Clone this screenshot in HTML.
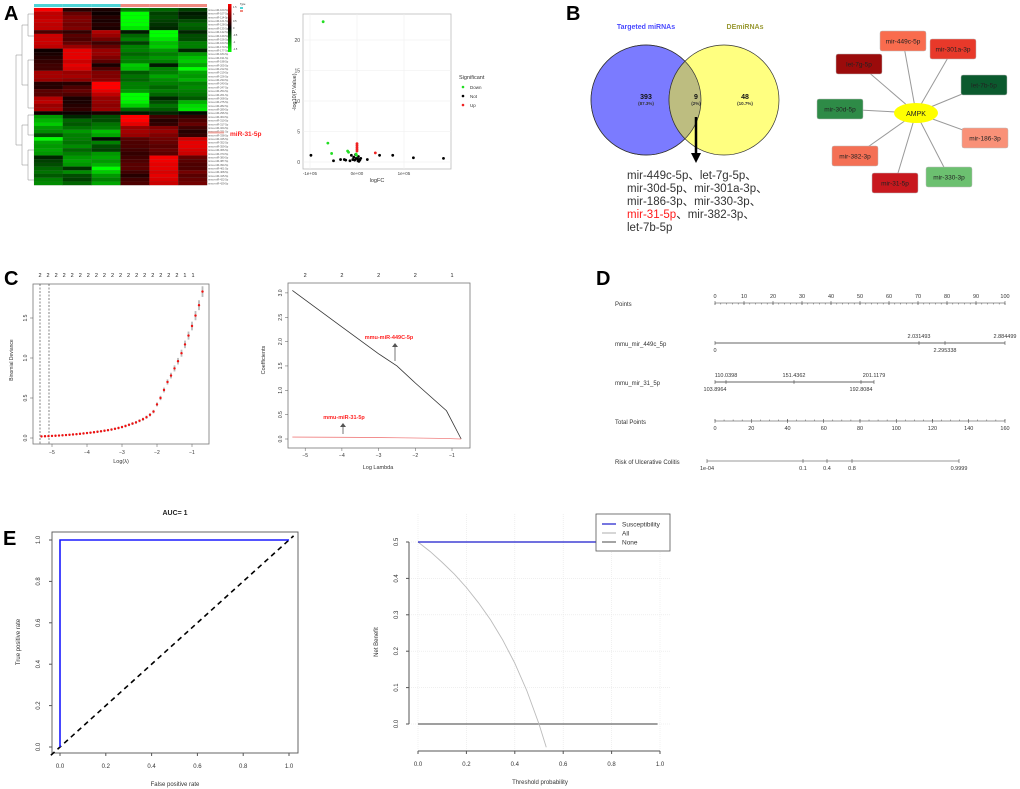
<!DOCTYPE html>
<html><head><meta charset="utf-8">
<style>
html,body{margin:0;padding:0;background:#fff;}
svg{display:block;font-family:"Liberation Sans",Arial,"Noto Sans CJK SC",sans-serif;}
</style></head>
<body>
<svg id="fig" width="1020" height="789" viewBox="0 0 1020 789" xmlns="http://www.w3.org/2000/svg">
<rect width="1020" height="789" fill="#fff"/>
<g id="gA"></g>
<g id="gB"></g>
<g id="gC"></g>
<g id="gD"></g>
<g id="gE"></g>
</svg>
<script>
// ===== DATA =====
const heatRows = [
[2,0.3,0.2,-1,-0.8,-0.5],[1.5,0.8,0.1,-2,-0.5,-0.2],[1.5,1,0.3,-2,-0.6,-0.3],[1.6,1,0.2,-2,-0.5,-0.6],
[1.5,0.9,0.3,-2,-0.4,-0.8],[1.5,1,0.2,-1.8,-0.3,-0.7],[0.6,0.4,1.4,-0.2,-2,-0.3],[1.6,0.7,1.2,-0.8,-2,-0.6],
[1.6,0.6,0.9,-1,-1.8,-0.6],[1.6,0.8,0.5,-0.5,-1.5,-1],[1.5,1.2,0.8,-1,-1.6,-1],[0.1,1.8,1.2,-1,-1.2,-0.3],
[0.2,1.8,1.2,-0.8,-1,-1.2],[0.3,1.8,1,-1,-1.2,-1.5],[0.4,1.6,0.7,-1,-1,-1.6],[0.5,1.8,0.2,-1.6,-0.2,-1.3],
[0.5,1.7,0.6,-1.5,-1,-2],[1.3,1.2,1.0,-0.7,-1,-1.3],[1.3,1.3,1.0,-0.9,-1.3,-1.2],[1.2,1.1,1.1,-0.8,-1.1,-1.4],
[0.3,0.3,2,-1,-1,-1],[0.3,0.6,2,-1,-0.8,-1.1],[0.7,0.8,1.8,-1.2,-1,-1],[0.7,0.6,1.5,-2,-0.8,-0.9],
[1.4,0.2,1.2,-2,-0.3,-0.7],[1.5,0.2,1.2,-1.9,-0.6,-1.4],[1.2,0.3,1.1,-1.6,-0.9,-1.7],[1.3,0.4,1.2,-0.8,-0.7,-1.8],
[0.1,0.1,0.2,-0.2,-0.3,-0.1],
[-1.2,-0.3,-0.6,2,0.5,0.4],[-1.4,-0.8,-0.6,2,0.3,0.6],[-1.6,-0.7,-0.9,1.8,0.4,0.8],[-1.2,-0.9,-1,1.2,1,0.5],
[-1.1,-1.2,-1.5,1.3,1.2,0.3],[-0.6,-1.0,-1.3,1.2,1.0,0.4],[-2,-1,-0.1,0.7,0.9,1.6],[-1.3,-0.9,-1,0.6,0.8,1.8],
[-1.2,-1.1,-0.6,0.6,0.7,1.8],[-1.3,-0.8,-0.5,0.5,0.8,1.7],[-1.2,-1.0,-1.2,0.4,0.7,1.6],[-0.3,-1.2,-1.3,0.5,1.9,0.8],
[-0.5,-1.3,-1.2,0.6,1.9,0.7],[-0.6,-1.2,-1.4,0.7,1.8,0.6],[-0.8,-0.4,-2,0.7,1.8,0.6],[-0.9,-1.1,-1.6,0.5,1.7,0.9],
[-0.7,-0.6,-1.2,0.3,1.8,0.7],[-1.0,-0.5,-1.0,0.5,1.7,0.8],[-1.1,-0.8,-1.3,0.6,1.6,0.9]
];
const heatTypes = ["C","C","C","T","T","T"];
const volDown = [[-0.72e5,23],[-0.62e5,3.1],[-0.54e5,1.4],[-0.2e5,1.8],[-0.18e5,1.6],[-0.02e5,1.3],[-0.01e5,1.1]];
const volUp = [[0,3.0],[0,2.7],[0,2.4],[0,2.1],[0,1.8],[0.39e5,1.5]];
const volNot = [[-0.98e5,1.1],[-0.5e5,0.2],[-0.35e5,0.4],[-0.27e5,0.4],[-0.24e5,0.3],[-0.15e5,0.2],[-0.12e5,1.1],
[-0.09e5,0.4],[-0.07e5,0.8],[-0.05e5,0.3],[-0.03e5,1.2],[-0.02e5,0.6],[0.01e5,0.5],[0.02e5,0.2],[0.03e5,0.9],
[0.04e5,0.1],[0.05e5,0.4],[0.06e5,0.3],[0.08e5,0.6],[0.22e5,0.4],[0.48e5,1.1],[0.76e5,1.1],[1.2e5,0.7],[1.84e5,0.6]];
const vennLabels = ["Targeted miRNAs","DEmiRNAs"];
const vennCounts = [393,9,48];
const vennPct = ["(87.3%)","(2%)","(10.7%)"];
const netNames = ["mir-449c-5p","mir-301a-3p","let-7g-5p","let-7b-5p","mir-30d-5p","mir-186-3p","mir-382-3p","mir-31-5p","mir-330-3p"];
const netColors = ["#f96c4e","#e8392a","#9b0b0b","#0b5a2e","#2e8b47","#f99178","#f47055","#c8181e","#6cc070"];
const cvLog = [-5.3,-5.2,-5.1,-5.0,-4.9,-4.8,-4.7,-4.6,-4.5,-4.4,-4.3,-4.2,-4.1,-4.0,-3.9,-3.8,-3.7,-3.6,-3.5,-3.4,-3.3,-3.2,-3.1,-3.0,-2.9,-2.8,-2.7,-2.6,-2.5,-2.4,-2.3,-2.2,-2.1,-2.0,-1.9,-1.8,-1.7,-1.6,-1.5,-1.4,-1.3,-1.2,-1.1,-1.0,-0.9,-0.8,-0.7];
const cvDev = [0.020,0.022,0.024,0.026,0.028,0.031,0.034,0.037,0.040,0.044,0.048,0.052,0.057,0.062,0.067,0.072,0.078,0.084,0.091,0.098,0.106,0.115,0.125,0.137,0.150,0.165,0.180,0.195,0.215,0.235,0.26,0.29,0.33,0.42,0.50,0.60,0.70,0.78,0.87,0.96,1.06,1.17,1.28,1.40,1.53,1.66,1.83];
const cvTop = ["2","2","2","2","2","2","2","2","2","2","2","2","2","2","2","2","2","2","1","1"];
const coefLog = [-5.35,-4,-3,-2.5,-2,-1.15,-0.75];
const coef449 = [3.05,2.3,1.75,1.5,1.15,0.58,0.0];
const coef31 = [0.04,0.035,0.03,0.025,0.02,0.01,0.0];
const rocFpr = [0,0,1];
const rocTpr = [0,1,1];
const dcaT = [0,0.05,0.1,0.15,0.2,0.25,0.3,0.35,0.4,0.45,0.5,0.53];
const dcaAll = [0.5,0.474,0.444,0.412,0.375,0.333,0.286,0.231,0.167,0.091,0,-0.064];
const dcaModel = [0.5,0.5];

// ===== helpers =====
const NS="http://www.w3.org/2000/svg";
function mk(parent,tag,attrs,text){const e=document.createElementNS(NS,tag);for(const k in attrs)e.setAttribute(k,attrs[k]);if(text!==undefined)e.textContent=text;parent.appendChild(e);return e;}
function txt(p,x,y,s,size,opt){opt=opt||{};const a={x:x,y:y,"font-size":size,fill:opt.fill||"#222","text-anchor":opt.anchor||"middle"};if(opt.weight)a["font-weight"]=opt.weight;if(opt.rot)a.transform="rotate(-90 "+x+" "+y+")";return mk(p,"text",a,s);}

// ===== Panel A =====
const gA=document.getElementById("gA");
const A=txt(gA,4,20,"A",20,{anchor:"start",weight:"bold",fill:"#000"});


const hx0=34,hw=173/6,hy0=8,hh=177/heatRows.length;
function hcol(v){const t=Math.min(Math.abs(v)/2,1);const c=Math.round(255*t);return v>=0?"rgb("+c+",0,0)":"rgb(0,"+c+",0)";}
heatTypes.forEach((t,j)=>{const r=mk(gA,"rect",{x:hx0+j*hw,y:4,width:hw,height:3,fill:t==="C"?"#4fd4d6":"#f08a80"});

});
heatRows.forEach((row,i)=>{row.forEach((v,j)=>{const r=mk(gA,"rect",{x:hx0+j*hw,y:hy0+i*hh,width:hw+0.2,height:hh+0.2,fill:hcol(v),stroke:"#555","stroke-width":0.1});

});
txt(gA,208,hy0+i*hh+hh*0.8,"mmu-miR-"+(100+i*7)+"-5p",2.6,{anchor:"start",fill:"#555"});});
const dg=mk(gA,"g",{stroke:"#888","stroke-width":0.5,fill:"none"});


mk(dg,"path",{d:"M16 55 V145 M16 55 H22 M16 145 H22 M22 25 V85 M22 25 H28 M22 85 H28 M22 125 V165 M22 125 H28 M22 165 H28 M28 14 V36 M28 14 H34 M28 36 H34 M28 60 V108 M28 60 H34 M28 108 H34 M28 115 V135 M28 115 H34 M28 135 H34 M28 150 V180 M28 150 H34 M28 180 H34"});
const lg=mk(gA,"defs",{});mk(lg,"linearGradient",{id:"hg",x1:0,y1:0,x2:0,y2:1});
const hgEl=lg.firstChild;[["0","#ff0000"],["0.5","#000000"],["1","#00ff00"]].forEach(s=>mk(hgEl,"stop",{offset:s[0],"stop-color":s[1]}));
const leg=mk(gA,"rect",{x:228,y:4,width:3.5,height:48,fill:"url(#hg)"});


["1.5","1","0.5","0","-0.5","-1","-1.5"].forEach((s,i)=>txt(gA,233,8+i*7,s,2.5,{anchor:"start",fill:"#333"}));
txt(gA,240,5,"Type",2.5,{anchor:"start"});
mk(gA,"rect",{x:240,y:7,width:3,height:2,fill:"#4fd4d6"});mk(gA,"rect",{x:240,y:10,width:3,height:2,fill:"#f08a80"});
mk(gA,"rect",{x:208,y:131.5,width:16,height:2,fill:"#f08a80",opacity:0.7});
const m31=txt(gA,230,136,"miR-31-5p",6.5,{anchor:"start",weight:"bold",fill:"#ff2020"});


const vx=v=>357+v*(47/1e5), vy=v=>162-v*(122/20);
const vb=mk(gA,"rect",{x:303,y:14,width:148,height:155,fill:"#fff",stroke:"#bbb","stroke-width":0.8});


[0,5,10,15,20].forEach(v=>{mk(gA,"line",{x1:303,x2:451,y1:vy(v),y2:vy(v),stroke:"#eee","stroke-width":0.6});txt(gA,300,vy(v)+2,String(v),5,{anchor:"end",fill:"#444"});});
[-1e5,0,1e5].forEach((v,i)=>{mk(gA,"line",{x1:vx(v),x2:vx(v),y1:14,y2:169,stroke:"#eee","stroke-width":0.6});txt(gA,vx(v),175,["-1e+05","0e+00","1e+05"][i],4.5,{fill:"#444"});});
[[volNot,"#000"],[volDown,"#22dd22"],[volUp,"#ee2222"]].forEach(([arr,c])=>arr.forEach(p=>{const d=mk(gA,"circle",{cx:vx(p[0]),cy:vy(p[1]),r:1.4,fill:c});

}));
txt(gA,377,182,"logFC",5.5,{fill:"#333"});
txt(gA,296,92,"-log10(P.Value)",5.5,{rot:true,fill:"#333"});
txt(gA,459,79,"Significant",5.5,{anchor:"start",fill:"#333"});
[["Down","#22dd22"],["Not","#000"],["Up","#ee2222"]].forEach((e,i)=>{const c=mk(gA,"circle",{cx:463,cy:87+i*9,r:1.3,fill:e[1]});


txt(gA,470,89+i*9,e[0],4.5,{anchor:"start",fill:"#333"});});

// ===== Panel B =====
const gB=document.getElementById("gB");
txt(gB,566,20,"B",20,{anchor:"start",weight:"bold",fill:"#000"});
const c1=mk(gB,"circle",{cx:646,cy:100,r:55,fill:"#7b7bff",stroke:"#333","stroke-width":0.7});


const c2=mk(gB,"circle",{cx:724,cy:100,r:55,fill:"#ffff80",stroke:"#333","stroke-width":0.7});


mk(gB,"clipPath",{id:"cp1"}).appendChild(document.createElementNS(NS,"circle"));
const cpc=document.querySelector("#cp1 circle");cpc.setAttribute("cx",646);cpc.setAttribute("cy",100);cpc.setAttribute("r",55);
const ov=mk(gB,"circle",{cx:724,cy:100,r:55,fill:"#bdbd80",stroke:"#333","stroke-width":0.7,"clip-path":"url(#cp1)"});


mk(gB,"circle",{cx:646,cy:100,r:55,fill:"none",stroke:"#333","stroke-width":0.7});
txt(gB,646,29,vennLabels[0],7,{weight:"bold",fill:"#4a4aff"});
txt(gB,745,29,vennLabels[1],7,{weight:"bold",fill:"#999933"});
[[646,vennCounts[0],vennPct[0]],[696,vennCounts[1],vennPct[1]],[745,vennCounts[2],vennPct[2]]].forEach(a=>{txt(gB,a[0],99,String(a[1]),7,{weight:"bold",fill:"#111"});txt(gB,a[0],105,a[2],4.5,{weight:"bold",fill:"#333"});});
mk(gB,"line",{x1:696,y1:117,x2:696,y2:155,stroke:"#000","stroke-width":2.5});
mk(gB,"polygon",{points:"691,153 701,153 696,163",fill:"#000"});
const lines=[[["mir-449c-5p、let-7g-5p、","#333"]],[["mir-30d-5p、mir-301a-3p、","#333"]],[["mir-186-3p、mir-330-3p、","#333"]],[["mir-31-5p","#ff1a1a"],["、mir-382-3p、","#333"]],[["let-7b-5p","#333"]]];
lines.forEach((ln,i)=>{const t=mk(gB,"text",{x:627,y:179+i*13,"font-size":11.5,fill:"#333"});


ln.forEach(s=>mk(t,"tspan",{fill:s[1]},s[0]));});
const netX=[903,953,859,984,840,985,855,895,949], netY=[41,49,64,85,109,138,156,183,177];
netNames.forEach((n,i)=>mk(gB,"line",{x1:916,y1:113,x2:netX[i],y2:netY[i],stroke:"#999","stroke-width":1}));
netNames.forEach((n,i)=>{const r=mk(gB,"rect",{x:netX[i]-23,y:netY[i]-10,width:46,height:20,rx:2,fill:netColors[i],stroke:"#bbb","stroke-width":0.5});


txt(gB,netX[i],netY[i]+2.5,n,6.5,{fill:"#222"});});
const am=mk(gB,"ellipse",{cx:916,cy:113,rx:22,ry:10,fill:"#ffff00"});


txt(gB,916,116,"AMPK",7,{fill:"#222"});

// ===== Panel C =====
const gC=document.getElementById("gC");
txt(gC,4,285,"C",20,{anchor:"start",weight:"bold",fill:"#000"});
const cx1=v=>192+(v+1)*35, cy1=v=>438-v*80;
const b1=mk(gC,"rect",{x:33,y:284,width:176,height:160,fill:"none",stroke:"#777","stroke-width":0.8});


[0,0.5,1,1.5].forEach(v=>{mk(gC,"line",{x1:30,x2:33,y1:cy1(v),y2:cy1(v),stroke:"#555","stroke-width":0.5});txt(gC,27,cy1(v),v.toFixed(1),5,{rot:true,fill:"#333"});});
[-5,-4,-3,-2,-1].forEach(v=>{mk(gC,"line",{x1:cx1(v),x2:cx1(v),y1:444,y2:447,stroke:"#555","stroke-width":0.5});txt(gC,cx1(v),454,"−"+(-v),5,{fill:"#333"});});
cvTop.forEach((s,i)=>txt(gC,40+i*(153/19),277,s,5.5,{fill:"#222"}));
txt(gC,121,463,"Log(λ)",5.5,{fill:"#333"});
txt(gC,13,360,"Binomial Deviance",5,{rot:true,fill:"#333"});
mk(gC,"line",{x1:40,x2:40,y1:284,y2:444,stroke:"#333","stroke-width":0.6,"stroke-dasharray":"2,1.5"});
mk(gC,"line",{x1:49,x2:49,y1:284,y2:444,stroke:"#333","stroke-width":0.6,"stroke-dasharray":"2,1.5"});
cvLog.forEach((l,i)=>{const d=cvDev[i];const e=0.012+d*0.03;
mk(gC,"line",{x1:cx1(l),x2:cx1(l),y1:cy1(d+e),y2:cy1(d-e),stroke:"#bbb","stroke-width":1.8});
const p=mk(gC,"circle",{cx:cx1(l),cy:cy1(d),r:1.2,fill:"#ee1111"});

});
const cx2=v=>452+(v+1)*36.7, cy2=v=>439-v*48.7;
const b2=mk(gC,"rect",{x:288,y:283,width:182,height:165,fill:"none",stroke:"#777","stroke-width":0.8});


[0,0.5,1,1.5,2,2.5,3].forEach(v=>{mk(gC,"line",{x1:285,x2:288,y1:cy2(v),y2:cy2(v),stroke:"#555","stroke-width":0.5});txt(gC,282,cy2(v),v.toFixed(1),5,{rot:true,fill:"#333"});});
[-5,-4,-3,-2,-1].forEach(v=>{mk(gC,"line",{x1:cx2(v),x2:cx2(v),y1:448,y2:451,stroke:"#555","stroke-width":0.5});txt(gC,cx2(v),457,"−"+(-v),5,{fill:"#333"});});
["2","2","2","2","1"].forEach((s,i)=>txt(gC,cx2(-5+i),277,s,5.5,{fill:"#222"}));
const p449=mk(gC,"polyline",{points:coefLog.map((l,i)=>cx2(l)+","+cy2(coef449[i])).join(" "),fill:"none",stroke:"#333","stroke-width":0.8});


const p31=mk(gC,"polyline",{points:coefLog.map((l,i)=>cx2(l)+","+cy2(coef31[i])).join(" "),fill:"none",stroke:"#f08080","stroke-width":0.8});


txt(gC,389,339,"mmu-miR-449C-5p",5.5,{weight:"bold",fill:"#ff2222"});
txt(gC,344,419,"mmu-miR-31-5p",5.5,{weight:"bold",fill:"#ff2222"});
mk(gC,"line",{x1:395,x2:395,y1:361,y2:344,stroke:"#555","stroke-width":0.8});mk(gC,"polygon",{points:"392,347 398,347 395,343",fill:"#555"});
mk(gC,"line",{x1:343,x2:343,y1:434,y2:424,stroke:"#555","stroke-width":0.8});mk(gC,"polygon",{points:"340,427 346,427 343,423",fill:"#555"});
txt(gC,378,469,"Log Lambda",5.5,{fill:"#333"});
txt(gC,265,360,"Coefficients",5.5,{rot:true,fill:"#333"});

// ===== Panel D =====
const gD=document.getElementById("gD");
txt(gD,596,285,"D",20,{anchor:"start",weight:"bold",fill:"#000"});
function axis(y,x0,x1,ticks,labels,below){mk(gD,"line",{x1:x0,x2:x1,y1:y,y2:y,stroke:"#333","stroke-width":0.6});
ticks.forEach((t,i)=>{mk(gD,"line",{x1:t,x2:t,y1:y-2,y2:y+2,stroke:"#333","stroke-width":0.5});if(labels[i])txt(gD,t,below?y+9:y-5,labels[i],5.5,{fill:"#333"});});}
const ptsLab=["0","10","20","30","40","50","60","70","80","90","100"];
const pts=[];for(let i=0;i<=10;i++)pts.push(715+i*29);
axis(303,715,1005,pts,ptsLab,false);
for(let i=0;i<=50;i++)mk(gD,"line",{x1:715+i*5.8,x2:715+i*5.8,y1:303,y2:304.5,stroke:"#333","stroke-width":0.4});
txt(gD,615,306,"Points",6,{anchor:"start",fill:"#333"});
txt(gD,615,346,"mmu_mir_449c_5p",6,{anchor:"start",fill:"#333"});
axis(343,715,1005,[919,1005],["2.031493","2.884499"],false);axis(343,715,1005,[715,945],["0","2.295338"],true);
txt(gD,615,385,"mmu_mir_31_5p",6,{anchor:"start",fill:"#333"});
axis(382,715,874,[726,794,874],["110.0398","151.4362","201.1179"],false);axis(382,715,874,[715,861],["103.8964","192.8084"],true);
txt(gD,615,424,"Total Points",6,{anchor:"start",fill:"#333"});
const tp=[],tpl=[];for(let i=0;i<=8;i++){tp.push(715+i*36.25);tpl.push(String(i*20));}
axis(421,715,1005,tp,tpl,true);
for(let i=0;i<=32;i++)mk(gD,"line",{x1:715+i*9.06,x2:715+i*9.06,y1:419.5,y2:421,stroke:"#333","stroke-width":0.4});
txt(gD,615,464,"Risk of Ulcerative Colitis",6,{anchor:"start",fill:"#333"});
axis(461,707,959,[707,803,827,852,959],["1e-04","0.1","0.4","0.8","0.9999"],true);

// ===== Panel E =====
const gE=document.getElementById("gE");
txt(gE,3,545,"E",20,{anchor:"start",weight:"bold",fill:"#000"});
const ex=v=>60+v*229, ey=v=>747-v*207;
const b3=mk(gE,"rect",{x:52,y:532,width:246,height:221,fill:"none",stroke:"#555","stroke-width":0.9});


txt(gE,175,515,"AUC= 1",7,{weight:"bold",fill:"#222"});
[0,0.2,0.4,0.6,0.8,1].forEach(v=>{mk(gE,"line",{x1:ex(v),x2:ex(v),y1:753,y2:756,stroke:"#555"});txt(gE,ex(v),768,v.toFixed(1),6,{fill:"#333"});
mk(gE,"line",{x1:49,x2:52,y1:ey(v),y2:ey(v),stroke:"#555"});txt(gE,40,ey(v),v.toFixed(1),6,{rot:true,fill:"#333"});});
txt(gE,175,786,"False positive rate",6,{fill:"#333"});
txt(gE,20,642,"True positive rate",6,{rot:true,fill:"#333"});
const dl=mk(gE,"line",{x1:ex(-0.04),y1:ey(-0.04),x2:ex(1.02),y2:ey(1.02),stroke:"#000","stroke-width":1.6,"stroke-dasharray":"5,4"});


const roc=mk(gE,"polyline",{points:rocFpr.map((f,i)=>ex(f)+","+ey(rocTpr[i])).join(" "),fill:"none",stroke:"#1a1aff","stroke-width":1.6});


const dx=v=>418+v*242, dy=v=>724-v*364;
[0,0.1,0.2,0.3,0.4,0.5].forEach(v=>{mk(gE,"line",{x1:409,x2:671,y1:dy(v),y2:dy(v),stroke:"#e6e6e6","stroke-width":0.6,"stroke-dasharray":"1,1"});
mk(gE,"line",{x1:406,x2:409,y1:dy(v),y2:dy(v),stroke:"#555"});txt(gE,398,dy(v),v.toFixed(1),6,{rot:true,fill:"#333"});});
[0,0.2,0.4,0.6,0.8,1].forEach(v=>{mk(gE,"line",{x1:dx(v),x2:dx(v),y1:514,y2:751,stroke:"#e6e6e6","stroke-width":0.6,"stroke-dasharray":"1,1"});
mk(gE,"line",{x1:dx(v),x2:dx(v),y1:751,y2:754,stroke:"#555"});txt(gE,dx(v),766,v.toFixed(1),6,{fill:"#333"});});
mk(gE,"line",{x1:409,x2:409,y1:dy(0.5),y2:dy(0),stroke:"#555","stroke-width":1});
mk(gE,"line",{x1:dx(0),x2:dx(1),y1:751,y2:751,stroke:"#555","stroke-width":1});
txt(gE,540,784,"Threshold probability",6,{fill:"#333"});
txt(gE,378,642,"Net Benefit",6,{rot:true,fill:"#333"});
const dn=mk(gE,"line",{x1:dx(0),x2:dx(0.99),y1:dy(0),y2:dy(0),stroke:"#666","stroke-width":1.3});


const da=mk(gE,"polyline",{points:dcaT.map((t,i)=>dx(t)+","+dy(dcaAll[i])).join(" "),fill:"none",stroke:"#bbb","stroke-width":0.9});


const dm=mk(gE,"line",{x1:dx(0),x2:596,y1:dy(dcaModel[0]),y2:dy(dcaModel[1]),stroke:"#1a1acc","stroke-width":1.3});


const lb=mk(gE,"rect",{x:596,y:514,width:74,height:37,fill:"#fff",stroke:"#555","stroke-width":0.8});


[["Susceptibility","#1a1acc"],["All","#bbb"],["None","#666"]].forEach((e,i)=>{mk(gE,"line",{x1:602,x2:616,y1:524+i*9,y2:524+i*9,stroke:e[1],"stroke-width":1.2});
const t=txt(gE,622,526.5+i*9,e[0],6.5,{anchor:"start",fill:"#333"});

});
</script>
</body></html>
